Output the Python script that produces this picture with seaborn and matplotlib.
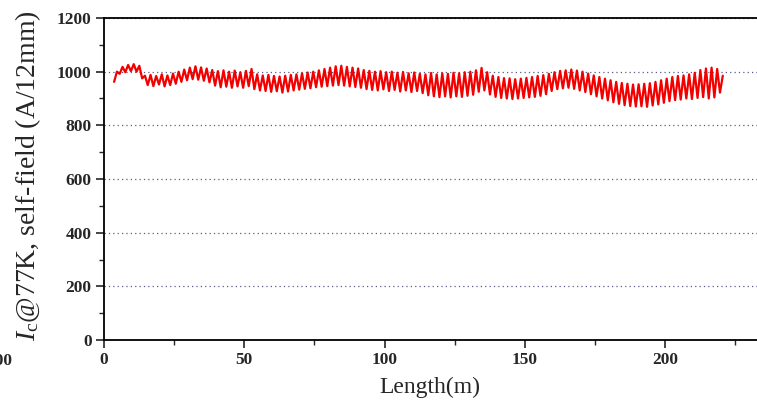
import numpy as np
import matplotlib
matplotlib.use("Agg")
import matplotlib.pyplot as plt
from matplotlib.ticker import MultipleLocator
import seaborn as sns

# critical current along the tape, read every metre as alternating lows/highs (A/12mm)
ic_values = [
    962, 1000, 992, 1018, 998, 1025, 1002, 1028, 1000, 1022,   # 3.6-12.6 m
    975, 985, 950, 988, 946, 984, 952, 990, 945, 986,          # 13.6-22.6 m
    950, 993, 955, 1000, 962, 1008, 968, 1015, 972, 1020,      # 23.6-32.6 m
    970, 1016, 966, 1012, 960, 1006, 948, 1002, 942, 1005,     # 33.6-42.6 m
    944, 1000, 940, 1004, 945, 998, 940, 1003, 946, 1010,      # 43.6-52.6 m
    935, 990, 930, 986, 928, 988, 925, 984, 927, 982,          # 53.6-62.6 m
    922, 985, 926, 988, 930, 990, 933, 994, 936, 997,          # 63.6-72.6 m
    938, 1000, 942, 1005, 944, 1010, 946, 1015, 948, 1020,     # 73.6-82.6 m
    950, 1022, 948, 1018, 945, 1015, 943, 1012, 940, 1006,     # 83.6-92.6 m
    935, 1003, 932, 1000, 930, 1002, 934, 998, 928, 1000,      # 93.6-102.6 m
    932, 996, 926, 999, 930, 994, 924, 997, 928, 992,          # 103.6-112.6 m
    920, 990, 912, 995, 908, 990, 905, 994, 908, 992,          # 113.6-122.6 m
    904, 996, 908, 994, 906, 998, 910, 1000, 914, 1005,        # 123.6-132.6 m
    925, 1014, 930, 998, 915, 985, 906, 980, 902, 976,         # 133.6-142.6 m
    900, 975, 898, 972, 900, 974, 902, 977, 904, 980,          # 143.6-152.6 m
    906, 984, 910, 987, 916, 992, 928, 998, 935, 1003,         # 153.6-162.6 m
    938, 1005, 940, 1008, 936, 1004, 930, 1000, 924, 993,      # 163.6-172.6 m
    916, 986, 908, 980, 900, 974, 893, 968, 886, 962,          # 173.6-182.6 m
    880, 958, 875, 955, 872, 952, 870, 953, 871, 955,          # 183.6-192.6 m
    869, 957, 874, 962, 878, 968, 884, 974, 890, 980,          # 193.6-202.6 m
    894, 984, 896, 986, 900, 990, 898, 996, 902, 1006,         # 203.6-212.6 m
    905, 1012, 900, 1015, 904, 1010, 922, 985,                 # 213.6-220.6 m
]
start_m = 3.6
end_m = 220.6
length_m = np.linspace(start_m, end_m, len(ic_values))

x_ticks = [0, 50, 100, 150, 200]
y_ticks = [0, 200, 400, 600, 800, 1000, 1200]
x_label = "Length(m)"
y_label = r"$I_\mathrm{c}$@77K, self-field (A/12mm)"

sns.set_style("ticks")
plt.rcParams["font.family"] = ["Liberation Serif", "DejaVu Serif"]
plt.rcParams["mathtext.fontset"] = "custom"
plt.rcParams["mathtext.rm"] = "Liberation Serif"
plt.rcParams["mathtext.it"] = "Liberation Serif:italic"

W, H = 757, 403
fig = plt.figure(figsize=(W / 100, H / 100), dpi=100)
x_max = 240
px_per_m = 2.805
ax = fig.add_axes([104 / W, (H - 340) / H, x_max * px_per_m / W, 322 / H])

sns.lineplot(x=length_m, y=ic_values, ax=ax, color="#f20000", lw=1.6,
             estimator=None, sort=False)

ax.set_xlim(0, x_max)
ax.set_ylim(0, 1200)
ax.set_xticks(x_ticks)
ax.set_yticks(y_ticks)
ax.xaxis.set_minor_locator(MultipleLocator(25))
ax.yaxis.set_minor_locator(MultipleLocator(100))
ax.tick_params(which="major", direction="out", length=6, width=1.2,
               labelsize=12.5, pad=3)
ax.tick_params(which="minor", direction="out", length=3.5, width=1.0)
for lab in ax.get_xticklabels() + ax.get_yticklabels():
    lab.set_fontweight("bold")

ax.yaxis.grid(True, linestyle=(0, (1, 2.5)), color="#5a5a8a", lw=0.9)
ax.set_axisbelow(True)
for s in ax.spines.values():
    s.set_linewidth(1.3)
    s.set_color("black")

ax.set_xlabel(x_label, fontsize=17, va="center")
ax.xaxis.set_label_coords((430 - 104) / (x_max * px_per_m), -47 / 322)
ax.set_ylabel(y_label, fontsize=20, va="center")
ax.yaxis.set_label_coords(-(104 - 28) / (x_max * px_per_m), (340 - 176) / 322)

# cut-off tick label of the neighbouring panel at the left edge
fig.text(12 / W, (H - 361) / H, "200", ha="right", va="center",
         fontsize=12.5, fontweight="bold")

fig.savefig("out.png", dpi=100)
